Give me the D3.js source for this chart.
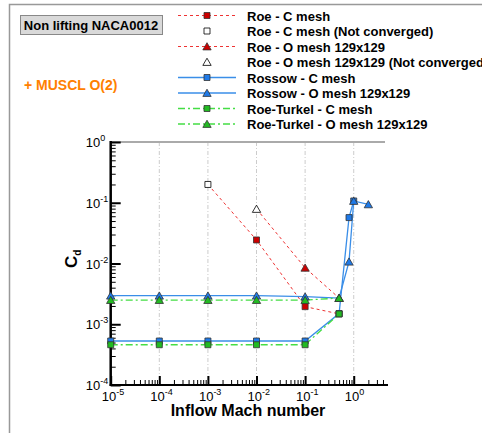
<!DOCTYPE html>
<html>
<head>
<meta charset="utf-8">
<script src="https://cdn.jsdelivr.net/npm/d3@7"></script>
<style>
  body { margin: 0; background: #fff; }
  svg { font-family: "Liberation Sans", Arial, sans-serif; }
</style>
</head>
<body>
<script>
// Chart data
const machC = [1e-5, 1e-4, 1e-3, 1e-2, 1e-1, 0.5, 0.8, 1.0];
const machO = [1e-5, 1e-4, 1e-3, 1e-2, 1e-1, 0.5, 0.8, 1.0, 2.0];

const roeCMach = [1e-3, 1e-2, 1e-1, 0.5];
const roeCVals = [0.2, 0.0244, 0.00195, 0.00148];
const roeCConverged = [false, true, true, true];

const roeOMach = [1e-2, 1e-1, 0.5];
const roeOVals = [0.079, 0.0085, 0.0027];
const roeOConverged = [false, true, true];

const rossowCVals = [0.00053, 0.00053, 0.00053, 0.00053, 0.00053, 0.0015, 0.057, 0.107];
const rossowOVals = [0.00295, 0.00295, 0.00295, 0.00295, 0.00285, 0.0027, 0.0107, 0.107, 0.094];

const turkelCMach = [1e-5, 1e-4, 1e-3, 1e-2, 1e-1, 0.5];
const turkelCVals = [0.00046, 0.00046, 0.00046, 0.00046, 0.00046, 0.00148];
const turkelOVals = [0.0025, 0.0025, 0.0025, 0.0025, 0.0025, 0.0027];

const xTickExp = [-5, -4, -3, -2, -1, 0];
const yTickExp = [-4, -3, -2, -1, 0];

const legendLabels = [
  "Roe - C mesh",
  "Roe - C mesh (Not converged)",
  "Roe - O mesh 129x129",
  "Roe - O mesh 129x129 (Not converged)",
  "Rossow - C mesh",
  "Rossow - O mesh 129x129",
  "Roe-Turkel - C mesh",
  "Roe-Turkel - O mesh 129x129"
];

// Dimensions
const svgWidth = 482;
const svgHeight = 433;
const plot = { left: 110.7, right: 385, top: 142, bottom: 385 };

const svg = d3.select("body")
  .append("svg")
  .attr("width", svgWidth)
  .attr("height", svgHeight);

// outer frame
svg.append("path")
  .attr("d", `M9.5,${svgHeight} V4.5 H${svgWidth}`)
  .attr("fill", "none")
  .attr("stroke", "#999")
  .attr("stroke-width", 1.5);

const x = d3.scaleLog().domain([1e-5, 4.4]).range([plot.left, plot.right]);
const y = d3.scaleLog().domain([1e-4, 1]).range([plot.bottom, plot.top]);

// vertical grid lines
svg.append("g")
  .selectAll("line")
  .data(xTickExp.slice(1))
  .join("line")
  .attr("x1", d => x(Math.pow(10, d)))
  .attr("x2", d => x(Math.pow(10, d)))
  .attr("y1", plot.top)
  .attr("y2", plot.bottom)
  .attr("stroke", "#ccc")
  .attr("stroke-width", 1)
  .attr("stroke-dasharray", "4,2,1,2");

// top border line
svg.append("line")
  .attr("x1", plot.left).attr("x2", plot.right)
  .attr("y1", plot.top).attr("y2", plot.top)
  .attr("stroke", "#aaa").attr("stroke-width", 2);

// minor tick values
const xMinor = [];
xTickExp.forEach(e => { for (let k = 2; k <= 9; k++) { const v = k * Math.pow(10, e); if (v <= 4.4) xMinor.push(v); } });
const yMinor = [];
yTickExp.slice(0, -1).forEach(e => { for (let k = 2; k <= 9; k++) yMinor.push(k * Math.pow(10, e)); });

// x axis
const xAxis = svg.append("g").attr("transform", `translate(0,${plot.bottom})`);
xAxis.call(d3.axisTop(x).tickValues(xMinor).tickSize(5).tickFormat(""))
  .call(g => g.select(".domain").remove())
  .call(g => g.selectAll(".tick line").attr("stroke", "#000").attr("stroke-width", 1));
const xMajor = svg.append("g").attr("transform", `translate(0,${plot.bottom})`);
xMajor.call(d3.axisTop(x).tickValues(xTickExp.map(e => Math.pow(10, e))).tickSize(9).tickFormat(""))
  .call(g => g.select(".domain").remove())
  .call(g => g.selectAll(".tick line").attr("stroke", "#000").attr("stroke-width", 2));
svg.append("line")
  .attr("x1", plot.left - 1).attr("x2", plot.right + 3)
  .attr("y1", plot.bottom).attr("y2", plot.bottom)
  .attr("stroke", "#000").attr("stroke-width", 2);

// y axis
const yAxis = svg.append("g").attr("transform", `translate(${plot.left},0)`);
yAxis.call(d3.axisRight(y).tickValues(yMinor).tickSize(5).tickFormat(""))
  .call(g => g.select(".domain").remove())
  .call(g => g.selectAll(".tick line").attr("stroke", "#000").attr("stroke-width", 1));
const yMajor = svg.append("g").attr("transform", `translate(${plot.left},0)`);
yMajor.call(d3.axisRight(y).tickValues(yTickExp.map(e => Math.pow(10, e))).tickSize(10).tickFormat(""))
  .call(g => g.select(".domain").remove())
  .call(g => g.selectAll(".tick line").attr("stroke", "#000").attr("stroke-width", 2));
svg.append("line")
  .attr("x1", plot.left).attr("x2", plot.left)
  .attr("y1", plot.top - 1).attr("y2", plot.bottom + 1)
  .attr("stroke", "#000").attr("stroke-width", 2.5);

// tick labels with superscript exponents
function powLabel(g, e) {
  g.append("tspan").text("10");
  g.append("tspan").attr("dy", -6).attr("font-size", 9).text(e);
}
xTickExp.forEach(e => {
  const t = svg.append("text")
    .attr("x", x(Math.pow(10, e)) - 9)
    .attr("y", plot.bottom + 16)
    .attr("font-size", 13);
  powLabel(t, e);
});
yTickExp.forEach(e => {
  const t = svg.append("text")
    .attr("x", plot.left - 25)
    .attr("y", y(Math.pow(10, e)) + 5)
    .attr("font-size", 13);
  powLabel(t, e);
});

// axis titles
svg.append("text")
  .attr("x", 248).attr("y", 416)
  .attr("text-anchor", "middle")
  .attr("font-size", 16).attr("font-weight", "bold")
  .text("Inflow Mach number");
const cd = svg.append("text")
  .attr("transform", "translate(77,268) rotate(-90)")
  .attr("font-size", 17).attr("font-weight", "bold");
cd.append("tspan").text("C");
cd.append("tspan").attr("dy", 4).attr("font-size", 10).text("d");

// series styles
const redLine = { stroke: "#e33", width: 1, dash: "3,3" };
const blueLine = { stroke: "#3a8ee8", width: 1.3, dash: null };
const greenLine = { stroke: "#44dd44", width: 1.3, dash: "7,3,2,3" };

function drawLine(xs, ys, st) {
  const line = d3.line().x((d, i) => x(xs[i])).y(d => y(d));
  svg.append("path")
    .datum(ys)
    .attr("d", line)
    .attr("fill", "none")
    .attr("stroke", st.stroke)
    .attr("stroke-width", st.width)
    .attr("stroke-dasharray", st.dash);
}

const sq = d3.symbol().type(d3.symbolSquare).size(36);
const tri = d3.symbol().type(d3.symbolTriangle).size(30);

function drawMarks(xs, ys, sym, fills) {
  svg.append("g")
    .selectAll("path")
    .data(ys)
    .join("path")
    .attr("transform", (d, i) => `translate(${x(xs[i])},${y(d) + (sym === tri ? 1 : 0)})`)
    .attr("d", sym)
    .attr("fill", (d, i) => fills(i))
    .attr("stroke", (d, i) => fills(i) === "#fff" ? "#000" : "#333")
    .attr("stroke-width", 0.8);
}

// lines
drawLine(roeCMach, roeCVals, redLine);
drawLine(roeOMach, roeOVals, redLine);
drawLine(machC, rossowCVals, blueLine);
drawLine(machO, rossowOVals, blueLine);
drawLine(turkelCMach, turkelCVals, greenLine);
drawLine(turkelCMach, turkelOVals, greenLine);

// markers
drawMarks(roeCMach, roeCVals, sq, i => roeCConverged[i] ? "#cc0000" : "#fff");
drawMarks(roeOMach, roeOVals, tri, i => roeOConverged[i] ? "#cc0000" : "#fff");
drawMarks(machC, rossowCVals, sq, () => "#1f7ae8");
drawMarks(machO, rossowOVals, tri, () => "#1f7ae8");
drawMarks(turkelCMach, turkelCVals, sq, () => "#22bb22");
drawMarks(turkelCMach, turkelOVals, tri, () => "#22bb22");

// title box
svg.append("rect")
  .attr("x", 20.5).attr("y", 15.5).attr("width", 142).attr("height", 19)
  .attr("fill", "#d9d9d9").attr("stroke", "#888");
svg.append("text")
  .attr("x", 91).attr("y", 30)
  .attr("text-anchor", "middle")
  .attr("font-size", 13).attr("font-weight", "bold")
  .text("Non lifting NACA0012");

svg.append("text")
  .attr("x", 24).attr("y", 90)
  .attr("font-size", 14).attr("font-weight", "bold")
  .attr("fill", "#ff8000")
  .text("+ MUSCL O(2)");

// legend
const legendStyles = [redLine, null, redLine, null, blueLine, blueLine, greenLine, greenLine];
const legendSyms = [sq, sq, tri, tri, sq, tri, sq, tri];
const legendFills = ["#cc0000", "#fff", "#cc0000", "#fff", "#1f7ae8", "#1f7ae8", "#22bb22", "#22bb22"];
const legend = svg.append("g").attr("transform", "translate(178,15.5)");
const rows = legend.selectAll("g")
  .data(legendLabels)
  .join("g")
  .attr("transform", (d, i) => `translate(0,${i * 15.5})`);
rows.each(function(d, i) {
  const r = d3.select(this);
  const st = legendStyles[i];
  if (st) {
    r.append("line")
      .attr("x1", 0).attr("x2", 58).attr("y1", 0).attr("y2", 0)
      .attr("stroke", st.stroke).attr("stroke-width", st.width)
      .attr("stroke-dasharray", st.dash);
  }
  r.append("path")
    .attr("transform", `translate(29,${legendSyms[i] === tri ? 1 : 0})`)
    .attr("d", legendSyms[i])
    .attr("fill", legendFills[i])
    .attr("stroke", legendFills[i] === "#fff" ? "#000" : "#333")
    .attr("stroke-width", 0.8);
  r.append("text")
    .attr("x", 69).attr("y", 5)
    .attr("font-size", 13).attr("font-weight", "bold")
    .text(d);
});
</script>
</body>
</html>
